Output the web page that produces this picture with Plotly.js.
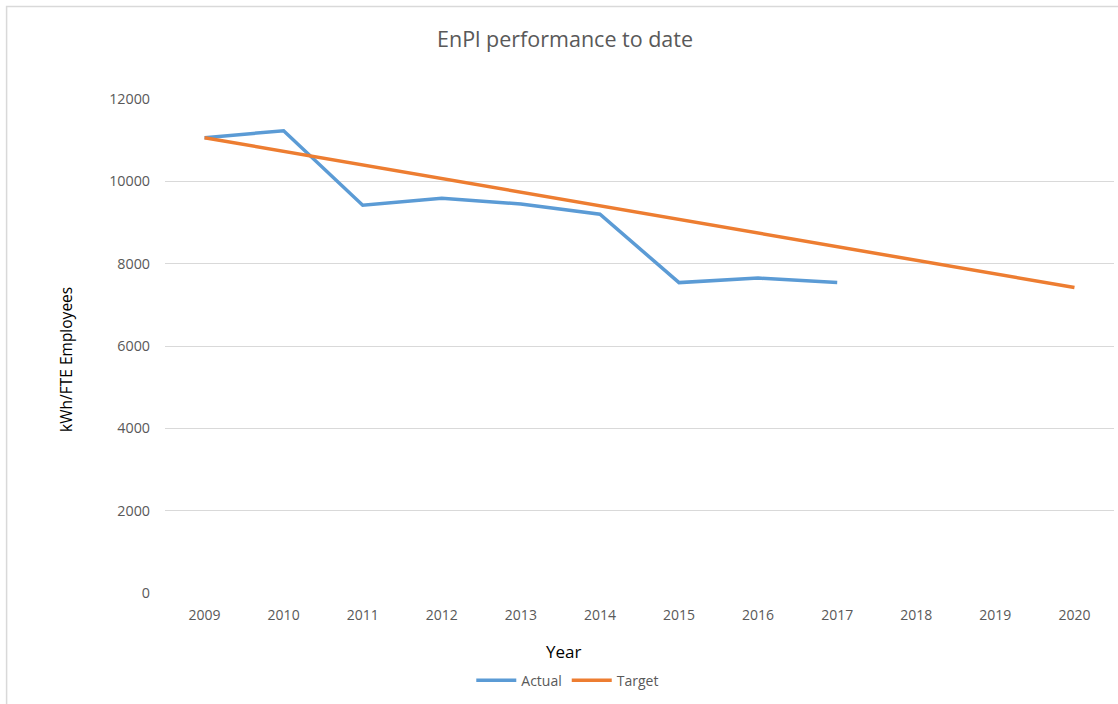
<!DOCTYPE html>
<html>
<head>
<meta charset="utf-8">
<script src="https://cdn.plot.ly/plotly-3.0.1.min.js"></script>
<style>
html,body{margin:0;padding:0;background:#fff;}
#chart{width:1118px;height:704px;}
</style>
</head>
<body>
<div id="chart"></div>
<script>
const years = ["2009","2010","2011","2012","2013","2014","2015","2016","2017","2018","2019","2020"];
const actualYears = ["2009","2010","2011","2012","2013","2014","2015","2016","2017"];
const actualValues = [11060, 11230, 9420, 9590, 9450, 9200, 7540, 7650, 7540];
const targetValues = [11060, 10730, 10400, 10070, 9740, 9410, 9080, 8750, 8420, 8090, 7760, 7420];
const yTicks = [0, 2000, 4000, 6000, 8000, 10000, 12000];

const FONT = "'Open Sans', 'Noto Sans', sans-serif";
const GREY = "#595959";

const traces = [
  {x: actualYears, y: actualValues, name: "Actual", type: "scatter", mode: "lines",
   line: {color: "#5B9BD5", width: 3.5}},
  {x: years, y: targetValues, name: "Target", type: "scatter", mode: "lines",
   line: {color: "#ED7D31", width: 3.5}}
];

const PL = 165, PW = 949.5, PB = 593.3, PH = 494.3;
const px = v => (v - PL) / PW;
const py = v => (PB - v) / PH;

const layout = {
  width: 1118, height: 704,
  margin: {l: 165, r: 3.5, t: 99, b: 110.7},
  paper_bgcolor: "#fff", plot_bgcolor: "#fff",
  font: {family: FONT, color: GREY, size: 14},
  showlegend: true,
  legend: {orientation: "h", x: px(568), xanchor: "center", y: py(681), yanchor: "middle",
           font: {family: FONT, size: 14, color: GREY}, itemwidth: 40, tracegroupgap: 0},
  xaxis: {type: "category", categoryorder: "array", categoryarray: years,
          range: [-0.5, 11.5], showgrid: false, zeroline: false, showline: false,
          ticks: "", tickfont: {family: FONT, size: 14, color: GREY}, ticklabelstandoff: 12,
          fixedrange: true},
  yaxis: {range: [0, 12000], tickvals: yTicks, ticktext: yTicks.map(String),
          showgrid: true, gridcolor: "#D9D9D9", gridwidth: 1, zeroline: false, showline: false,
          ticks: "", tickfont: {family: FONT, size: 14.3, color: GREY}, ticklabelstandoff: 14,
          fixedrange: true},
  annotations: [
    {text: "EnPl performance to date", xref: "paper", yref: "paper",
     x: px(565), y: py(38),
     xanchor: "center", yanchor: "middle", showarrow: false,
     font: {family: FONT, size: 21.5, color: GREY}},
    {text: "Year", xref: "paper", yref: "paper",
     x: px(564), y: py(652),
     xanchor: "center", yanchor: "middle", showarrow: false,
     font: {family: FONT, size: 17, color: "#000"}},
    {text: "kWh/FTE Employees", xref: "paper", yref: "paper", textangle: -90,
     x: px(66), y: py(360),
     xanchor: "center", yanchor: "middle", showarrow: false,
     font: {family: FONT, size: 15.5, color: "#000"}}
  ],
  shapes: [
    {type: "rect", xref: "paper", yref: "paper",
     x0: px(6.5), x1: px(1130),
     y0: py(720), y1: py(6.5),
     line: {color: "#D9D9D9", width: 1.5}, fillcolor: "rgba(0,0,0,0)", layer: "below"}
  ]
};

Plotly.newPlot("chart", traces, layout, {displayModeBar: false, staticPlot: true});
</script>
</body>
</html>
